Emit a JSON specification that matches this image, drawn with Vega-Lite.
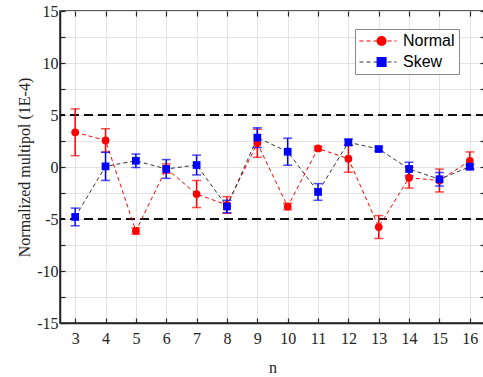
{
  "$schema": "https://vega.github.io/schema/vega-lite/v6.json",
  "autosize": "none",
  "padding": {"left": 60, "top": 11, "right": 0, "bottom": 54},
  "width": 425,
  "height": 312,
  "background": "white",
  "config": {
    "font": "Liberation Serif",
    "view": {"stroke": "#222222", "strokeWidth": 1.5},
    "axis": {
      "labelFont": "Times New Roman",
      "titleFont": "Liberation Serif",
      "labelFontSize": 16,
      "titleFontSize": 16,
      "titleFontWeight": "normal",
      "labelColor": "#222222",
      "titleColor": "#222222",
      "domainColor": "#222222",
      "domainWidth": 1.5,
      "tickColor": "#222222",
      "tickWidth": 1.2,
      "gridColor": "#e3e3e3",
      "gridWidth": 1
    }
  },
  "datasets": {
    "pts": [
      {"n": 3, "series": "Normal", "value": 3.34, "err": 2.25},
      {"n": 4, "series": "Normal", "value": 2.56, "err": 1.12},
      {"n": 5, "series": "Normal", "value": -6.15, "err": 0.3},
      {"n": 6, "series": "Normal", "value": -0.15, "err": 0.45},
      {"n": 7, "series": "Normal", "value": -2.6, "err": 1.3},
      {"n": 8, "series": "Normal", "value": -3.65, "err": 0.8},
      {"n": 9, "series": "Normal", "value": 2.28, "err": 1.35},
      {"n": 10, "series": "Normal", "value": -3.8, "err": 0.3},
      {"n": 11, "series": "Normal", "value": 1.78, "err": 0.2},
      {"n": 12, "series": "Normal", "value": 0.8, "err": 1.3},
      {"n": 13, "series": "Normal", "value": -5.77, "err": 1.1},
      {"n": 14, "series": "Normal", "value": -1.03, "err": 1.0},
      {"n": 15, "series": "Normal", "value": -1.3, "err": 1.1},
      {"n": 16, "series": "Normal", "value": 0.6, "err": 0.85},
      {"n": 3, "series": "Skew", "value": -4.8, "err": 0.85},
      {"n": 4, "series": "Skew", "value": 0.06, "err": 1.35},
      {"n": 5, "series": "Skew", "value": 0.6, "err": 0.65},
      {"n": 6, "series": "Skew", "value": -0.19, "err": 0.9},
      {"n": 7, "series": "Skew", "value": 0.19, "err": 0.95},
      {"n": 8, "series": "Skew", "value": -3.8, "err": 0.6},
      {"n": 9, "series": "Skew", "value": 2.82, "err": 0.95},
      {"n": 10, "series": "Skew", "value": 1.47, "err": 1.3},
      {"n": 11, "series": "Skew", "value": -2.4, "err": 0.8},
      {"n": 12, "series": "Skew", "value": 2.37, "err": 0.3},
      {"n": 13, "series": "Skew", "value": 1.73, "err": 0.2},
      {"n": 14, "series": "Skew", "value": -0.19, "err": 0.65},
      {"n": 15, "series": "Skew", "value": -1.18, "err": 0.65},
      {"n": 16, "series": "Skew", "value": 0.03, "err": 0.2}
    ],
    "refs": [{"ref": 5}, {"ref": -5}]
  },
  "layer": [
    {
      "data": {"name": "refs"},
      "mark": {"type": "rule", "color": "#111111", "strokeWidth": 2, "strokeDash": [9, 5]},
      "encoding": {
        "y": {"field": "ref", "type": "quantitative", "scale": {"domain": [-15, 15], "nice": false, "zero": false}, "axis": null}
      }
    },
    {
      "data": {"name": "pts"},
      "mark": {"type": "line", "strokeWidth": 1, "strokeDash": [4, 3]},
      "encoding": {
        "x": {"field": "n", "type": "quantitative", "scale": {"domain": [2.5, 16.5], "nice": false, "zero": false},
          "axis": {"orient": "top", "values": [3,4,5,6,7,8,9,10,11,12,13,14,15,16], "labels": false, "title": null, "grid": false, "domain": false, "tickSize": -5}},
        "y": {"field": "value", "type": "quantitative", "scale": {"domain": [-15, 15], "nice": false, "zero": false},
          "axis": {"orient": "right", "values": [-15,-12.5,-10,-7.5,-5,-2.5,0,2.5,5,7.5,10,12.5,15], "labels": false, "title": null, "grid": false, "domain": false, "tickSize": -5}},
        "color": {"field": "series", "type": "nominal",
          "scale": {"domain": ["Normal", "Skew"], "range": ["#ff0000", "#333333"]},
          "legend": {"orient": "none", "legendX": 295, "legendY": 18, "title": null, "padding": 4, "rowPadding": 5, "clipHeight": 16,
            "symbolType": "stroke", "symbolSize": 1369, "symbolStrokeWidth": 1, "symbolDash": [4, 3], "labelOffset": 6,
            "labelFont": "Liberation Sans", "labelFontSize": 16, "labelColor": "#000000",
            "strokeColor": "#888888", "fillColor": "white"}}
      }
    },
    {
      "data": {"name": "pts"},
      "transform": [{"filter": "datum.series === 'Normal'"}],
      "mark": {"type": "errorbar", "color": "#ff0000", "ticks": {"size": 9, "thickness": 1.5}, "rule": {"strokeWidth": 1.5}},
      "encoding": {
        "x": {"field": "n", "type": "quantitative", "axis": null},
        "y": {"field": "value", "type": "quantitative", "scale": {"domain": [-15, 15], "nice": false, "zero": false}, "axis": null},
        "yError": {"field": "err"}
      }
    },
    {
      "data": {"name": "pts"},
      "transform": [{"filter": "datum.series === 'Skew'"}],
      "mark": {"type": "errorbar", "color": "#0000ff", "ticks": {"size": 9, "thickness": 1.5}, "rule": {"strokeWidth": 1.5}},
      "encoding": {
        "x": {"field": "n", "type": "quantitative", "axis": null},
        "y": {"field": "value", "type": "quantitative", "scale": {"domain": [-15, 15], "nice": false, "zero": false}, "axis": null},
        "yError": {"field": "err"}
      }
    },
    {
      "data": {"name": "pts"},
      "mark": {"type": "point", "filled": true, "size": 60, "opacity": 1},
      "encoding": {
        "x": {"field": "n", "type": "quantitative", "scale": {"domain": [2.5, 16.5], "nice": false, "zero": false},
          "axis": {"orient": "bottom", "values": [3,4,5,6,7,8,9,10,11,12,13,14,15,16], "title": "n", "grid": true, "tickSize": -5, "labelPadding": 12, "titlePadding": 13,
            "labelFont": "Times New Roman", "titleFont": "Liberation Serif"}},
        "y": {"field": "value", "type": "quantitative", "scale": {"domain": [-15, 15], "nice": false, "zero": false},
          "axis": {"orient": "left", "values": [-15,-12.5,-10,-7.5,-5,-2.5,0,2.5,5,7.5,10,12.5,15], "grid": true, "tickSize": -5, "labelPadding": 7,
            "labelExpr": "datum.value % 5 === 0 ? toString(datum.value) : ''",
            "labelFont": "Times New Roman", "titleFont": "Liberation Serif",
            "title": "Normalized multipol (1E-4)", "titlePadding": 4}},
        "fill": {"field": "series", "type": "nominal", "scale": {"range": ["#ff0000", "#0000ff"]},
          "legend": {"orient": "none", "legendX": 309.6, "legendY": 18, "title": null, "padding": 4, "rowPadding": 5, "clipHeight": 16,
            "labelExpr": "''", "labelFontSize": 16, "symbolStrokeWidth": 0, "symbolOpacity": 1}},
        "shape": {"field": "series", "type": "nominal", "scale": {"range": ["circle", "square"]},
          "legend": {"orient": "none", "legendX": 309.6, "legendY": 18, "title": null, "padding": 4, "rowPadding": 5, "clipHeight": 16,
            "labelExpr": "''", "labelFontSize": 16, "symbolStrokeWidth": 0, "symbolOpacity": 1}}
      }
    }
  ],
  "resolve": {"axis": {"x": "independent", "y": "independent"}}
}
